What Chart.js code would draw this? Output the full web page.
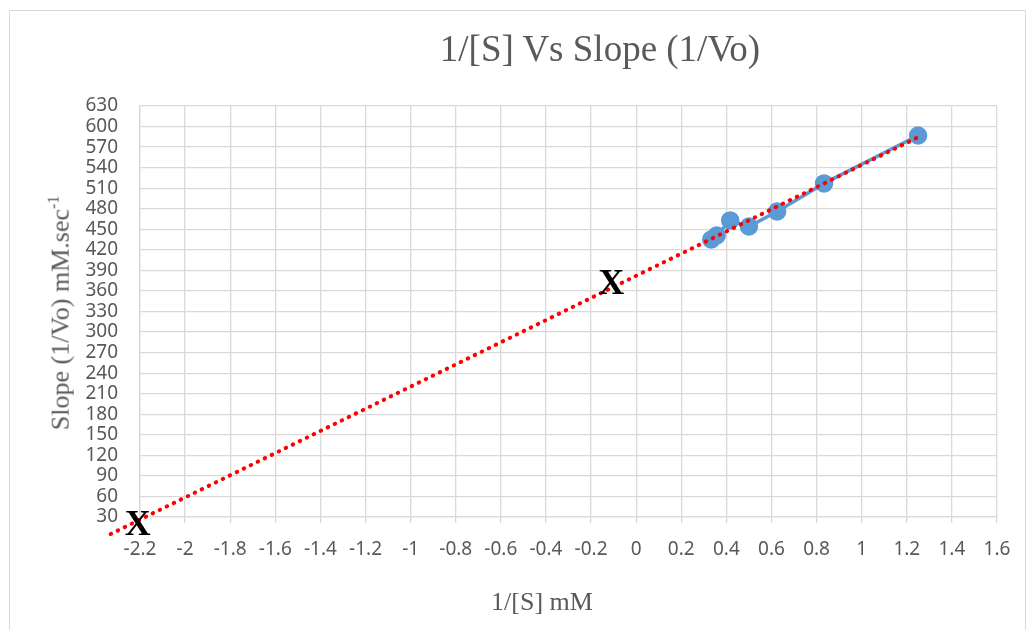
<!DOCTYPE html>
<html>
<head>
<meta charset="utf-8">
<script src="https://cdn.jsdelivr.net/npm/chart.js@4.4.1/dist/chart.umd.min.js"></script>
<style>
    body { margin: 0; background: #fff; }
    #wrap { position: relative; width: 1033px; height: 630px; overflow: hidden; }
    #frame { position: absolute; left: 9px; top: 10px; width: 1015px; height: 640px; border: 1px solid #d9d9d9; }
    canvas { position: absolute; left: 0; top: 0; }
    .lbl { position: absolute; font-family: "Liberation Serif", "Times New Roman", serif; color: #595959; white-space: nowrap; }
    #title { left: 600px; top: 48px; font-size: 37px; transform: translate(-50%, -50%); }
    #xTitle { left: 542px; top: 602px; font-size: 26px; transform: translate(-50%, -50%); }
    #yTitle { left: 60px; top: 313px; font-size: 26px; transform: translate(-50%, -50%) rotate(-90deg); }
</style>
</head>
<body>
<div id="wrap">
    <div id="frame"></div>
    <canvas id="chart" width="1033" height="630"></canvas>
    <div class="lbl" id="title">1/[S] Vs Slope (1/Vo)</div>
    <div class="lbl" id="xTitle">1/[S] mM</div>
    <div class="lbl" id="yTitle">Slope (1/Vo) mM.sec<sup style="font-size:16px">-1</sup></div>
</div>
<script>
// 1/[S] values and the matching slopes (1/Vo)
const invSubstrate = [0.333, 0.357, 0.417, 0.5, 0.625, 0.833, 1.25];
const slopes = [435, 441, 463, 454, 476, 517, 587];

// axis ticks
const xTicks = [-2.2, -2, -1.8, -1.6, -1.4, -1.2, -1, -0.8, -0.6, -0.4, -0.2, 0, 0.2, 0.4, 0.6, 0.8, 1, 1.2, 1.4, 1.6];
const yTicks = [30, 60, 90, 120, 150, 180, 210, 240, 270, 300, 330, 360, 390, 420, 450, 480, 510, 540, 570, 600, 630];

// trendline is forecast backward to this x
const trendFrom = -2.33;

// hand-drawn "X" marks on the graph
const xMarks = [[-2.21, 18], [-0.11, 369]];

// least squares fit
function linearFit(xs, ys) {
    const n = xs.length;
    const mx = xs.reduce((a, b) => a + b, 0) / n;
    const my = ys.reduce((a, b) => a + b, 0) / n;
    let sxy = 0, sxx = 0;
    for (let i = 0; i < n; i++) {
        sxy += (xs[i] - mx) * (ys[i] - my);
        sxx += (xs[i] - mx) * (xs[i] - mx);
    }
    const m = sxy / sxx;
    return { m, b: my - m * mx };
}

const fit = linearFit(invSubstrate, slopes);
const trendTo = Math.max(...invSubstrate);
const trendData = [trendFrom, trendTo].map(x => ({ x, y: fit.m * x + fit.b }));

const markPlugin = {
    id: 'xMarks',
    afterDatasetsDraw(chart) {
        const { ctx, scales: { x, y } } = chart;
        ctx.save();
        ctx.font = 'bold 36px "Liberation Serif"';
        ctx.fillStyle = '#000';
        ctx.textAlign = 'center';
        ctx.textBaseline = 'middle';
        xMarks.forEach(([mx, my]) => ctx.fillText('X', x.getPixelForValue(mx), y.getPixelForValue(my)));
        ctx.restore();
    }
};

const fmt = v => String(Number(v.toFixed(1)));
const gridColor = '#d9d9d9';
const tickFont = { family: 'Noto Sans', size: 19 };

new Chart(document.getElementById('chart'), {
    type: 'scatter',
    data: {
        datasets: [{
            data: trendData,
            showLine: true,
            borderColor: '#ff0000',
            borderWidth: 4,
            borderDash: [0.5, 7.3],
            borderCapStyle: 'round',
            pointRadius: 0,
            clip: false
        }, {
            data: invSubstrate.map((x, i) => ({ x, y: slopes[i] })),
            showLine: true,
            borderColor: '#5b9bd5',
            borderWidth: 3.5,
            pointRadius: 7.5,
            pointBackgroundColor: '#5b9bd5',
            pointBorderColor: '#5b9bd5'
        }]
    },
    options: {
        responsive: false,
        animation: false,
        layout: { padding: { left: 0, top: 106, right: 36, bottom: 0 } },
        plugins: {
            legend: { display: false },
            tooltip: { enabled: false }
        },
        scales: {
            x: {
                type: 'linear',
                min: -2.2,
                max: 1.6,
                afterBuildTicks: s => { s.ticks = xTicks.map(value => ({ value })); },
                afterFit: s => { s.height = 113; },
                grid: { color: gridColor, lineWidth: 1.3, tickLength: 6, tickColor: gridColor },
                border: { color: gridColor, width: 1.3 },
                ticks: {
                    padding: 15,
                    color: '#595959',
                    font: tickFont,
                    autoSkip: false,
                    maxRotation: 0,
                    callback: fmt
                }
            },
            y: {
                min: 30,
                max: 630,
                afterBuildTicks: s => { s.ticks = yTicks.map(value => ({ value })); },
                afterFit: s => { s.width = 140; },
                grid: { color: gridColor, lineWidth: 1.3, drawTicks: false },
                border: { color: gridColor, width: 1.3 },
                ticks: {
                    padding: 22,
                    color: '#595959',
                    font: tickFont,
                    autoSkip: false,
                    callback: fmt
                }
            }
        }
    },
    plugins: [markPlugin]
});
</script>
</body>
</html>
